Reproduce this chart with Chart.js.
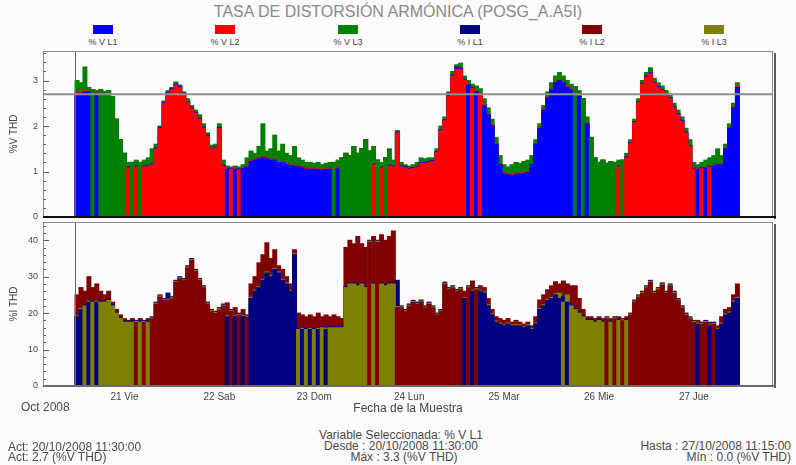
<!DOCTYPE html>
<html lang="es">
<head>
<meta charset="utf-8">
<title>Tasa de distorsión armónica</title>
<script src="https://cdn.jsdelivr.net/npm/chart.js@4.4.1/dist/chart.umd.min.js"></script>
<style>
  html, body { margin: 0; padding: 0; background: #fdfbfc; }
  #wrap { position: relative; width: 796px; height: 465px; overflow: hidden; background: #fdfbfc;
          font-family: 'Liberation Sans', Arial, sans-serif; color: #4a4a4a; }
  .txt { position: absolute; white-space: nowrap; line-height: 1; }
  .title { left: 0; width: 796px; top: 4px; text-align: center; font-size: 16px; color: #8a8a8a; }
  .foot { font-size: 12px; }
  .legend-box { position: absolute; width: 20px; height: 9px; top: 25px; }
  .legend-lbl { position: absolute; top: 38px; width: 60px; text-align: center; font-size: 9px; color: #444; line-height: 1; }
  .panel { position: absolute; left: 0; }
</style>
</head>
<body>
<div id="wrap">
  <div class="txt title">TASA DE DISTORSIÓN ARMÓNICA (POSG_A.A5I)</div>
  <div id="legend"></div>
  <div class="panel" style="top:46px"><canvas id="chartV" width="796" height="176"></canvas></div>
  <div class="panel" style="top:218px"><canvas id="chartI" width="796" height="200"></canvas></div>
  <div class="txt foot" style="left:21px;top:401px">Oct 2008</div>

  <div class="txt foot" style="left:8px;top:441px">Act: 20/10/2008 11:30:00</div>
  <div class="txt foot" style="left:8px;top:451px">Act: 2.7 (%V THD)</div>

  <div class="txt foot" style="left:251px;width:300px;text-align:center;top:429px">Variable Seleccionada: % V L1</div>
  <div class="txt foot" style="left:251px;width:300px;text-align:center;top:440px">Desde : 20/10/2008 11:30:00</div>
  <div class="txt foot" style="left:254px;width:300px;text-align:center;top:451px">Máx : 3.3 (%V THD)</div>

  <div class="txt foot" style="right:5px;text-align:right;top:440px">Hasta : 27/10/2008 11:15:00</div>
  <div class="txt foot" style="right:5px;text-align:right;top:451px">Mín : 0.0 (%V THD)</div>
</div>

<script>
// Hourly samples from 20/10/2008 11:30 (hours counted from 20/10 00:00)
const startHour = 11.5;
const stepHours = 1;
const axisStart = 3.4;
const axisEnd = 188;

const dayTicks = [24, 48, 72, 96, 120, 144, 168];
const dayLabels = ['21 Vie', '22 Sab', '23 Dom', '24 Lun', '25 Mar', '26 Mie', '27 Jue'];
const vTicks = [0, 1, 2, 3];
const iTicks = [0, 10, 20, 30, 40];

const seriesNames = ['% V L1', '% V L2', '% V L3', '% I L1', '% I L2', '% I L3'];
const seriesColors = ['#0000ff', '#ff0000', '#008000', '#000080', '#800000', '#808000'];

// Voltage THD (%) per phase
const vL1 = [
  2.70, 2.72, 2.75, 2.75, 2.80, 2.70, 2.80, 2.75, 2.78, 2.65, 2.15, 1.70,
  1.40, 1.10, 1.20, 1.12, 1.20, 1.12, 1.14, 1.17, 1.52, 1.97, 2.52, 2.74,
  2.82, 2.92, 2.87, 2.72, 2.54, 2.40, 2.30, 2.17, 1.97, 1.80, 1.52, 1.54,
  1.97, 1.14, 1.05, 1.07, 1.05, 1.06, 1.06, 1.10, 1.22, 1.25, 1.28, 1.30,
  1.28, 1.25, 1.25, 1.20, 1.20, 1.15, 1.12, 1.12, 1.10, 1.08, 1.05, 1.05,
  1.05, 1.04, 1.03, 1.04, 1.05, 1.20, 1.06, 1.30, 1.40, 1.35, 1.55, 1.40,
  1.50, 1.70, 1.45, 1.17, 1.25, 1.10, 1.30, 1.14, 1.12, 1.87, 1.12, 1.10,
  1.07, 1.09, 1.12, 1.20, 1.20, 1.22, 1.24, 1.44, 1.92, 2.14, 2.67, 3.12,
  3.30, 3.27, 3.02, 2.90, 2.84, 2.75, 2.72, 2.45, 2.25, 2.00, 1.60, 1.15,
  0.95, 0.92, 0.92, 0.93, 0.95, 0.95, 0.98, 1.15, 1.60, 1.95, 2.35, 2.62,
  2.80, 2.95, 3.00, 2.95, 2.85, 2.80, 2.87, 2.65, 2.60, 2.05, 1.75, 1.30,
  1.20, 1.25, 1.18, 1.22, 1.20, 1.12, 1.25, 1.32, 1.64, 2.10, 2.54, 2.94,
  3.10, 3.17, 2.97, 2.87, 2.80, 2.70, 2.62, 2.42, 2.27, 2.12, 1.87, 1.57,
  1.07, 1.05, 1.08, 1.08, 1.12, 1.12, 1.15, 1.15, 1.50, 1.95, 2.40, 2.85
];
const vL2 = [
  2.75, 2.74, 2.78, 2.77, 2.80, 2.73, 2.80, 2.75, 2.78, 2.65, 2.15, 1.70,
  1.40, 1.08, 1.20, 1.10, 1.20, 1.10, 1.12, 1.15, 1.50, 1.95, 2.50, 2.72,
  2.80, 2.90, 2.85, 2.70, 2.52, 2.38, 2.28, 2.15, 1.95, 1.78, 1.50, 1.52,
  1.95, 1.12, 1.07, 1.05, 1.07, 1.04, 1.08, 1.12, 1.24, 1.27, 1.30, 1.32,
  1.30, 1.27, 1.27, 1.22, 1.22, 1.17, 1.14, 1.14, 1.12, 1.10, 1.07, 1.07,
  1.07, 1.06, 1.05, 1.06, 1.07, 1.20, 1.08, 1.30, 1.40, 1.35, 1.55, 1.40,
  1.50, 1.70, 1.45, 1.15, 1.25, 1.08, 1.30, 1.12, 1.10, 1.85, 1.10, 1.08,
  1.05, 1.07, 1.10, 1.18, 1.18, 1.20, 1.22, 1.42, 1.90, 2.12, 2.65, 3.10,
  3.25, 3.25, 3.00, 2.92, 2.82, 2.77, 2.70, 2.47, 2.27, 2.02, 1.62, 1.17,
  0.97, 0.94, 0.94, 0.95, 0.97, 0.97, 1.00, 1.17, 1.62, 1.97, 2.37, 2.64,
  2.82, 2.97, 3.02, 2.97, 2.87, 2.82, 2.87, 2.67, 2.60, 2.07, 1.75, 1.30,
  1.20, 1.25, 1.18, 1.22, 1.20, 1.10, 1.25, 1.30, 1.62, 2.08, 2.52, 2.92,
  3.08, 3.15, 2.95, 2.85, 2.78, 2.68, 2.60, 2.40, 2.25, 2.10, 1.85, 1.55,
  1.05, 1.07, 1.06, 1.10, 1.10, 1.14, 1.17, 1.17, 1.52, 1.97, 2.42, 2.87
];
const vL3 = [
  3.00, 2.95, 3.30, 2.85, 2.80, 2.78, 2.80, 2.75, 2.78, 2.65, 2.15, 1.70,
  1.40, 1.20, 1.20, 1.25, 1.20, 1.25, 1.30, 1.50, 1.60, 2.00, 2.55, 2.78,
  2.85, 2.97, 2.90, 2.75, 2.60, 2.45, 2.35, 2.25, 2.05, 1.85, 1.58, 1.60,
  2.05, 1.25, 1.12, 1.10, 1.12, 1.10, 1.15, 1.30, 1.45, 1.40, 1.55, 2.05,
  1.45, 1.50, 1.80, 1.45, 1.60, 1.40, 1.35, 1.55, 1.30, 1.25, 1.20, 1.20,
  1.18, 1.20, 1.15, 1.18, 1.20, 1.20, 1.25, 1.30, 1.40, 1.35, 1.55, 1.40,
  1.50, 1.70, 1.45, 1.55, 1.25, 1.20, 1.30, 1.50, 1.25, 1.90, 1.20, 1.15,
  1.12, 1.15, 1.20, 1.30, 1.28, 1.30, 1.30, 1.50, 2.00, 2.20, 2.75, 3.20,
  3.35, 3.38, 3.10, 3.00, 2.92, 2.88, 2.82, 2.60, 2.40, 2.15, 1.75, 1.35,
  1.15, 1.10, 1.15, 1.20, 1.18, 1.22, 1.25, 1.35, 1.70, 2.05, 2.45, 2.75,
  2.95, 3.10, 3.18, 3.10, 3.00, 2.92, 2.87, 2.78, 2.60, 2.20, 1.75, 1.30,
  1.20, 1.25, 1.18, 1.22, 1.20, 1.25, 1.25, 1.40, 1.70, 2.15, 2.60, 3.00,
  3.18, 3.28, 3.05, 2.95, 2.88, 2.78, 2.70, 2.50, 2.35, 2.20, 1.95, 1.70,
  1.20, 1.15, 1.20, 1.25, 1.30, 1.35, 1.50, 1.35, 1.60, 2.05, 2.50, 2.95
];

// Current THD (%) per phase
const iL1 = [
  19, 21, 22.3, 23, 23.3, 23, 23.3, 23.3, 23.8, 22.3, 20.3, 18.8,
  17.8, 17.8, 17.8, 18, 17.8, 18, 17.8, 19, 23, 25, 24, 25.5,
  24.5, 29, 30, 29.5, 33, 35, 32, 29.5, 27.5, 23, 21, 20.5,
  21.5, 22.5, 19, 21, 19, 20, 19, 19.5, 24, 26, 27, 29,
  31, 30, 32, 31, 29, 28, 26, 36, 15.8, 15.5, 15.8, 15.5,
  15.8, 15.5, 16.3, 15.5, 16.3, 16.3, 16.3, 16.3, 27.3, 28.3, 28.3, 27.8,
  28.3, 27.3, 40, 28.3, 40, 28.3, 27.8, 28.3, 28.3, 29, 22, 21,
  22.5, 23.5, 23, 23.6, 22, 23, 22, 20, 21, 28.5, 27, 27.5,
  26.5, 27, 24, 27.5, 26, 27, 26, 25.5, 22, 19.5, 17.5, 17,
  16.5, 17, 16.5, 16.5, 16.5, 16, 16.5, 15.5, 17, 21, 22, 23.5,
  24, 25, 24, 24.5, 23, 22.3, 21.3, 20.3, 19.3, 18.3, 18.3, 17.8,
  18.3, 17.8, 19, 17.8, 19, 18.3, 18.5, 18.3, 20, 23.6, 25, 26,
  27.5, 29, 26, 27, 28.3, 26, 28, 26, 24, 22, 20, 19,
  18, 17, 17.5, 18, 16.5, 17.5, 15.5, 17, 19.5, 20, 23, 24
];
const iL2 = [
  25, 27, 26, 30, 27, 28, 26, 25, 26, 23, 21, 19.5,
  18.5, 18, 18.5, 17.4, 18.5, 17.4, 18.5, 18.4, 22.4, 24.4, 23.4, 23.5,
  23.9, 28.4, 29.4, 28.9, 32.4, 34.4, 31.4, 28.9, 26.9, 22.4, 20.4, 19.9,
  20.9, 21.9, 22.8, 20.4, 21.5, 19.4, 21, 18.9, 28, 30, 33.8, 36,
  39.3, 35, 37.4, 33, 32, 30, 28, 37.4, 20, 19.5, 19, 19.5,
  19, 20, 19, 19.5, 19, 19.5, 19, 18.5, 38, 40, 39, 41,
  39, 38, 39.4, 41, 39.4, 41.5, 40, 41, 42.5, 21.5, 21.4, 20.4,
  21.9, 22.9, 22.4, 23, 21.4, 22.4, 21.4, 19.4, 20.4, 27.9, 26.4, 26.9,
  25.9, 26.4, 26, 26.9, 28.8, 26.4, 27.5, 27, 24, 21, 19, 18.5,
  18, 18.5, 17.5, 18, 17.5, 17, 17.5, 16.5, 19, 23.6, 25, 26.4,
  27.5, 28.6, 28, 28.8, 28, 27.5, 27.5, 24, 21, 19, 19, 18.5,
  19, 18.5, 18.4, 18.5, 18.4, 19, 17.9, 19, 19.4, 23, 24.4, 25.4,
  26.9, 28.4, 25.4, 26.4, 27.7, 25.4, 27.4, 25.4, 23.4, 21.4, 19.4, 18.4,
  17.4, 18, 16.9, 17.4, 17.5, 16.9, 16.5, 19, 21, 21.5, 25, 28
];
const iL3 = [
  19.3, 21.3, 22, 23.3, 23, 23.3, 23, 23, 23.5, 22, 20, 18.5,
  17.5, 17.5, 17.5, 17.7, 17.5, 17.7, 17.5, 18.7, 22.7, 24.7, 23.7, 23.8,
  24.2, 28.7, 29.7, 29.2, 32.7, 34.7, 31.7, 29.2, 27.2, 22.7, 20.7, 20.2,
  21.2, 22.2, 19.3, 20.7, 19.3, 19.7, 19.3, 19.2, 24.3, 26.3, 27.3, 29.3,
  31.3, 30.3, 32.3, 31.3, 29.3, 28.3, 26.3, 36.3, 15.5, 15.8, 15.5, 15.8,
  15.5, 15.8, 16, 15.8, 16, 16, 16, 16, 27, 28, 28, 27.5,
  28, 27, 39.7, 28, 39.7, 28, 27.5, 28, 28, 21.8, 21.7, 20.7,
  22.2, 23.2, 22.7, 23.3, 21.7, 22.7, 21.7, 19.7, 20.7, 28.2, 26.7, 27.2,
  26.2, 26.7, 24.3, 27.2, 26.3, 26.7, 26.3, 25.8, 22.3, 19.8, 17.8, 17.3,
  16.8, 17.3, 16.8, 16.8, 16.8, 16.3, 16.8, 15.8, 17.3, 21.3, 22.3, 23.8,
  24.3, 25.3, 25.5, 23, 25, 22, 21, 20, 19, 18, 18, 17.5,
  18, 17.5, 18.7, 17.5, 18.7, 18, 18.2, 18, 19.7, 23.3, 24.7, 25.7,
  27.2, 28.7, 25.7, 26.7, 28, 25.7, 27.7, 25.7, 23.7, 21.7, 19.7, 18.7,
  17.7, 17.3, 17.2, 17.7, 16.8, 17.2, 15.8, 17.3, 19.8, 20.3, 23.3, 24.3
];

// ---- legend ----
const legendCentres = [103, 225, 348, 470, 592, 714];
const legendEl = document.getElementById('legend');
seriesNames.forEach((name, k) => {
  const box = document.createElement('div');
  box.className = 'legend-box';
  box.style.left = (legendCentres[k] - 10) + 'px';
  box.style.background = seriesColors[k];
  legendEl.appendChild(box);
  const lbl = document.createElement('div');
  lbl.className = 'legend-lbl';
  lbl.style.left = (legendCentres[k] - 30) + 'px';
  lbl.textContent = name;
  legendEl.appendChild(lbl);
});

Chart.defaults.font.family = "'Liberation Sans', Arial, sans-serif";
Chart.defaults.color = '#444';

// Each hourly bar spans the hour that starts at its sample time.
const barCentre = i => startHour + (i + 0.5) * stepHours;

// The three phases overlap at each instant: the tallest is drawn at the back,
// the lowest in front, so every phase stays visible.
function overlappedBars(series, colors) {
  const n = series[0].length;
  const order = [];
  for (let i = 0; i < n; i++) {
    order.push(series.map((_, p) => p).sort((a, b) => series[b][i] - series[a][i]));
  }
  const layers = [series.length - 1, 1, 0];   // front layer first (drawn last)
  return layers.map(layer => ({
    data: order.map((o, i) => ({ x: barCentre(i), y: series[o[layer]][i] })),
    backgroundColor: ctx => ctx.dataIndex === undefined ? colors[0] : colors[order[ctx.dataIndex][layer]],
    borderWidth: 0,
    grouped: false,
    barPercentage: 1,
    categoryPercentage: 1,
    inflateAmount: 0.5
  }));
}

// Frame, inner y ticks and cursor lines for each panel
const panelDecor = {
  id: 'panelDecor',
  afterDatasetsDraw(chart, args, opts) {
    const { ctx, chartArea: a, scales: { x, y } } = chart;
    ctx.save();
    // inner tick marks
    ctx.strokeStyle = '#555';
    ctx.lineWidth = 1;
    const nMinor = Math.floor(y.max / opts.minor + 1e-6);
    for (let k = 0; k <= nMinor; k++) {
      const v = k * opts.minor;
      const isMajor = Math.abs(v / opts.major - Math.round(v / opts.major)) < 1e-6;
      const py = Math.round(y.getPixelForValue(v)) + 0.5;
      ctx.beginPath();
      ctx.moveTo(a.left, py);
      ctx.lineTo(a.left + (isMajor ? 6 : 3), py);
      ctx.stroke();
    }
    // cursor
    const cx = Math.round(x.getPixelForValue(opts.cursorX)) + 0.5;
    ctx.strokeStyle = '#666';
    ctx.beginPath(); ctx.moveTo(cx, a.top); ctx.lineTo(cx, a.bottom); ctx.stroke();
    if (opts.cursorY !== undefined) {
      const cy = y.getPixelForValue(opts.cursorY);
      ctx.strokeStyle = '#8f8f8f';
      ctx.lineWidth = 2;
      ctx.beginPath(); ctx.moveTo(a.left, cy); ctx.lineTo(a.right, cy); ctx.stroke();
    }
    // frame
    ctx.strokeStyle = '#8a8a8a';
    ctx.lineWidth = 1;
    ctx.strokeRect(a.left + 0.5, a.top + 0.5, a.right - a.left - 1, a.bottom - a.top);
    ctx.fillStyle = '#5a5a5a';
    ctx.fillRect(a.right + 1, a.top + 2, 2, a.bottom - a.top);
    ctx.fillStyle = opts.baseColor;
    ctx.fillRect(a.left, a.bottom - 1, a.right - a.left + 3, 2);
    ctx.restore();
  }
};

// fixed axis box: no extra room reserved for the end labels
const yFit = s => { s.width = 43; s.paddingTop = 0; s.paddingBottom = 0; };
const xFit = s => { s.height = 32; s.paddingLeft = 0; s.paddingRight = 0; };

new Chart(document.getElementById('chartV'), {
  type: 'bar',
  data: { datasets: overlappedBars([vL1, vL2, vL3], seriesColors.slice(0, 3)) },
  options: {
    responsive: false,
    animation: false,
    devicePixelRatio: 1,
    layout: { padding: { top: 5, right: 23, bottom: 5, left: 0 } },
    plugins: {
      legend: { display: false },
      tooltip: { enabled: false },
      panelDecor: { minor: 0.2, major: 1, cursorX: startHour, cursorY: vL1[0], baseColor: '#111' }
    },
    scales: {
      x: { type: 'linear', min: axisStart, max: axisEnd, offset: false, display: false },
      y: {
        min: 0, max: 3.65,
        afterFit: yFit,
        afterBuildTicks: s => { s.ticks = vTicks.map(v => ({ value: v })); },
        grid: { display: false, drawTicks: false },
        border: { display: false },
        ticks: { padding: 5, font: { size: 9 }, color: '#444' },
        title: { display: true, text: '%V THD', font: { size: 10 }, color: '#444', padding: { top: 8, bottom: 0 } }
      }
    }
  },
  plugins: [panelDecor]
});

new Chart(document.getElementById('chartI'), {
  type: 'bar',
  data: { datasets: overlappedBars([iL1, iL2, iL3], seriesColors.slice(3, 6)) },
  options: {
    responsive: false,
    animation: false,
    devicePixelRatio: 1,
    layout: { padding: { top: 4, right: 23, bottom: 0, left: 0 } },
    plugins: {
      legend: { display: false },
      tooltip: { enabled: false },
      panelDecor: { minor: 2, major: 10, cursorX: startHour, baseColor: '#6a6a6a' }
    },
    scales: {
      x: {
        type: 'linear', min: axisStart, max: axisEnd, offset: false,
        afterBuildTicks: s => { s.ticks = dayTicks.map(v => ({ value: v })); },
        afterFit: xFit,
        grid: { display: false, drawTicks: false },
        border: { display: false },
        ticks: { callback: (v, i) => dayLabels[i], padding: 5, maxRotation: 0, autoSkip: false, font: { size: 10 }, color: '#444' },
        title: { display: true, text: 'Fecha de la Muestra', font: { size: 12 }, color: '#444', padding: { top: 0, bottom: 2 } }
      },
      y: {
        min: 0, max: 45,
        afterFit: yFit,
        afterBuildTicks: s => { s.ticks = iTicks.map(v => ({ value: v })); },
        grid: { display: false, drawTicks: false },
        border: { display: false },
        ticks: { padding: 5, font: { size: 9 }, color: '#444' },
        title: { display: true, text: '%I THD', font: { size: 10 }, color: '#444', padding: { top: 8, bottom: 0 } }
      }
    }
  },
  plugins: [panelDecor]
});
</script>
</body>
</html>
